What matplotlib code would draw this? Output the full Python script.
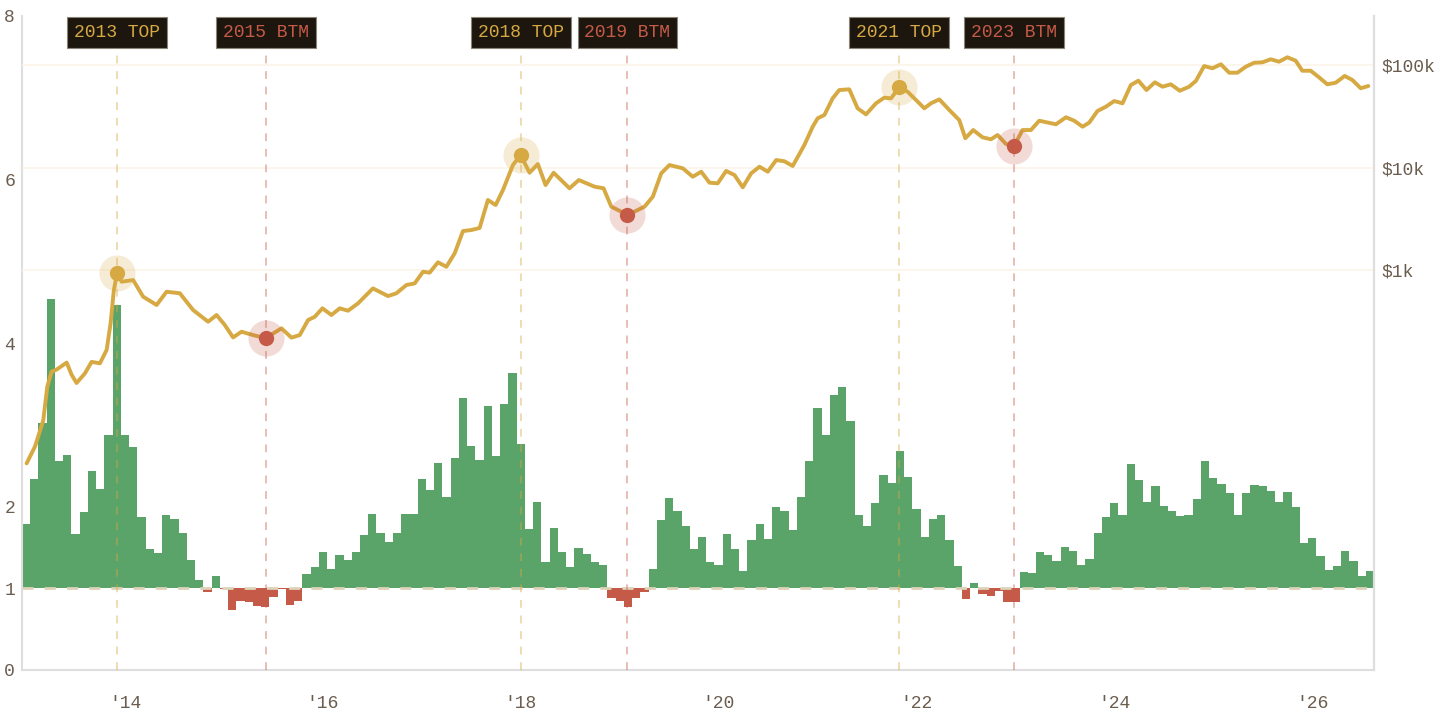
import matplotlib
matplotlib.use('Agg')
import matplotlib.pyplot as plt
import matplotlib.transforms as mtransforms
import numpy as np

plt.rcParams['font.family'] = ['Liberation Mono', 'DejaVu Sans Mono']

# monthly ratio, Jan 2013 onwards
ratio = [1.78, 2.34, 3.02, 4.54, 2.56, 2.63, 1.66, 1.93, 2.44, 2.22, 2.88, 4.46,
         2.87, 2.73, 1.87, 1.48, 1.43, 1.89, 1.85, 1.68, 1.34, 1.10, 0.96, 1.15,
         0.99, 0.74, 0.85, 0.83, 0.78, 0.77, 0.89, 0.99, 0.80, 0.85, 1.17, 1.26,
         1.44, 1.23, 1.41, 1.35, 1.44, 1.65, 1.91, 1.67, 1.57, 1.67, 1.91, 1.91,
         2.34, 2.20, 2.53, 2.12, 2.59, 3.33, 2.74, 2.57, 3.23, 2.62, 3.25, 3.63,
         2.77, 1.73, 2.05, 1.32, 1.74, 1.44, 1.26, 1.49, 1.42, 1.32, 1.29, 0.88,
         0.84, 0.77, 0.88, 0.95, 1.23, 1.84, 2.11, 1.94, 1.76, 1.48, 1.63, 1.32,
         1.29, 1.66, 1.48, 1.21, 1.59, 1.78, 1.60, 1.99, 1.95, 1.71, 2.12, 2.56,
         3.21, 2.88, 3.37, 3.46, 3.04, 1.89, 1.76, 2.04, 2.38, 2.29, 2.68, 2.36,
         1.97, 1.63, 1.85, 1.89, 1.59, 1.27, 0.87, 1.07, 0.93, 0.91, 0.97, 0.83,
         0.83, 1.20, 1.19, 1.44, 1.41, 1.33, 1.50, 1.45, 1.28, 1.36, 1.68, 1.87,
         2.04, 1.89, 2.52, 2.32, 2.05, 2.25, 2.01, 1.95, 1.88, 1.90, 2.09, 2.56,
         2.35, 2.28, 2.17, 1.89, 2.17, 2.26, 2.25, 2.19, 2.06, 2.18, 2.00, 1.55,
         1.61, 1.40, 1.22, 1.27, 1.45, 1.33, 1.15, 1.21]

# price (USD), decimal year
price_t = [2013.005, 2013.09, 2013.173, 2013.214, 2013.258, 2013.309, 2013.41, 2013.46,
           2013.51, 2013.594, 2013.662, 2013.746, 2013.814, 2013.854, 2013.887, 2013.921,
           2013.965, 2014.082, 2014.183, 2014.319, 2014.42, 2014.554, 2014.688, 2014.84,
           2014.925, 2015.008, 2015.092, 2015.177, 2015.294, 2015.42, 2015.581, 2015.682,
           2015.766, 2015.85, 2015.918, 2015.995, 2016.086, 2016.17, 2016.254, 2016.355,
           2016.506, 2016.658, 2016.743, 2016.844, 2016.928, 2017.012, 2017.079, 2017.163,
           2017.248, 2017.332, 2017.416, 2017.5, 2017.584, 2017.668, 2017.746, 2017.82,
           2017.921, 2017.998, 2018.089, 2018.173, 2018.251, 2018.332, 2018.493, 2018.587,
           2018.746, 2018.837, 2018.915, 2019.082, 2019.251, 2019.335, 2019.42, 2019.503,
           2019.638, 2019.739, 2019.824, 2019.908, 2019.991, 2020.076, 2020.16, 2020.244,
           2020.329, 2020.413, 2020.497, 2020.582, 2020.665, 2020.749, 2020.867, 2020.951,
           2021.001, 2021.069, 2021.153, 2021.22, 2021.321, 2021.405, 2021.49, 2021.591,
           2021.675, 2021.743, 2021.826, 2021.91, 2021.995, 2022.079, 2022.147, 2022.231,
           2022.332, 2022.433, 2022.494, 2022.574, 2022.668, 2022.753, 2022.82, 2022.905,
           2022.988, 2023.072, 2023.157, 2023.241, 2023.41, 2023.511, 2023.595, 2023.679,
           2023.746, 2023.83, 2023.915, 2023.999, 2024.083, 2024.167, 2024.244, 2024.325,
           2024.41, 2024.487, 2024.571, 2024.662, 2024.756, 2024.824, 2024.908, 2024.992,
           2025.077, 2025.161, 2025.244, 2025.329, 2025.413, 2025.497, 2025.581, 2025.665,
           2025.749, 2025.833, 2025.9, 2025.985, 2026.069, 2026.153, 2026.238, 2026.329,
           2026.406, 2026.491, 2026.568]
price = [13, 19, 34, 73, 102, 107, 125, 95,
         79, 98, 127, 123, 166, 302, 638, 942,
         769, 798, 549, 456, 614, 593, 407, 313,
         364, 291, 220, 250, 232, 216, 270, 219,
         232, 325, 350, 423, 364, 423, 401, 473,
         662, 557, 593, 714, 741, 962, 942, 1189,
         1076, 1455, 2399, 2455, 2570, 4820, 4305, 6025,
         10570, 13240, 8890, 10810, 6745, 8890, 6270, 7550,
         6500, 6270, 4150, 3445, 4150, 5190, 8770, 10570,
         9820, 8130, 9100, 7110, 7010, 9250, 8450, 6410,
         8770, 10180, 9100, 11830, 11500, 10350, 16600, 25000,
         30200, 32500, 47300, 57000, 57900, 37800, 33000, 42300,
         48000, 47300, 60500, 54900, 45600, 37800, 42300, 46200,
         36400, 29000, 19300, 23200, 19700, 18850, 20750, 16950,
         16330, 23200, 23200, 28600, 26400, 30900, 28600, 25000,
         27400, 35600, 39200, 44500, 42300, 63800, 70300, 57000,
         67800, 61400, 64800, 56100, 61400, 69800, 97700, 92900,
         101600, 84100, 84100, 96200, 105200, 106200, 113700, 107700,
         118900, 110200, 87900, 87900, 75900, 64800, 67200, 78200,
         71400, 59300, 62400]

event_labels = ['2013 TOP', '2015 BTM', '2018 TOP', '2019 BTM', '2021 TOP', '2023 BTM']
event_t = [2013.918, 2015.423, 2018.0, 2019.079, 2021.827, 2022.988]
event_price = [942, 216, 13240, 3445, 60500, 16330]

year_ticks = [2014, 2016, 2018, 2020, 2022, 2024, 2026]
year_labels = ["'14", "'16", "'18", "'20", "'22", "'24", "'26"]

GREEN = '#5ba469'
RED = '#c65a48'
GOLD = '#d6a942'
TXT = '#6b5d4f'
SPINE = '#dedede'

months = 2013 + np.arange(len(ratio)) / 12
ratio = np.array(ratio)

fig = plt.figure(figsize=(14.4, 7.2), dpi=100)
ax = fig.add_axes([22 / 1440, 50 / 720, 1352 / 1440, 654 / 720])

colors = [GREEN if r >= 1 else RED for r in ratio]
ax.bar(months, ratio - 1, bottom=1, width=1 / 12, color=colors, linewidth=0, zorder=2)
ax.axhline(1, color='#ddd3b8', linewidth=2, dashes=(4, 4), zorder=3)

ax.set_xlim(2013 - 1 / 24, 2013 + (len(ratio) - 1) / 12 + 1 / 24)
ax.set_ylim(0, 8)
ax.set_yticks([0, 1, 2, 4, 6, 8])
ax.set_xticks(year_ticks)
ax.set_xticklabels(year_labels)
ax.tick_params(axis='both', length=0, labelsize=13, colors=TXT)
ax.tick_params(axis='x', pad=18)
ax.tick_params(axis='y', pad=5)
for s in ['left', 'bottom', 'right']:
    ax.spines[s].set_color(SPINE)
    ax.spines[s].set_linewidth(1.5)
ax.spines['top'].set_visible(False)

ax2 = ax.twinx()
ax2.set_yscale('log')
ax2.set_ylim(10 ** -0.902, 10 ** 5.478)
ax2.set_yticks([1e3, 1e4, 1e5])
ax2.set_yticklabels(['$1k', '$10k', '$100k'])
ax2.minorticks_off()
ax2.tick_params(axis='y', length=0, labelsize=13, colors=TXT, pad=5)
ax2.grid(axis='y', color='#fbf3e7', linewidth=1.2, zorder=0)
ax2.set_axisbelow(True)
for s in ['left', 'bottom', 'top']:
    ax2.spines[s].set_visible(False)
ax2.spines['right'].set_color(SPINE)
ax2.spines['right'].set_linewidth(1.5)

ax2.plot(price_t, price, color=GOLD, linewidth=2.8, solid_joinstyle='round',
         solid_capstyle='round', zorder=4)

trans = mtransforms.blended_transform_factory(ax.transData, ax.transAxes)
for lab, t, p in zip(event_labels, event_t, event_price):
    c = GOLD if 'TOP' in lab else RED
    ax2.axvline(t, ymin=0, ymax=0.953, color=c, alpha=0.4, linewidth=1.4,
                dashes=(4, 4), zorder=3)
    ax2.plot([t], [p], 'o', markersize=26, color=c, alpha=0.22, markeredgewidth=0, zorder=5)
    ax2.plot([t], [p], 'o', markersize=11, color=c, markeredgewidth=0, zorder=6)
    ax2.text(t, 0.975, lab, transform=trans, ha='center', va='center', fontsize=13,
             color=c, zorder=7,
             bbox=dict(boxstyle='square,pad=0.38', facecolor='#1c160e', edgecolor='#8a8478',
                       linewidth=0.8))

fig.savefig('out.png', dpi=100, facecolor='white')
